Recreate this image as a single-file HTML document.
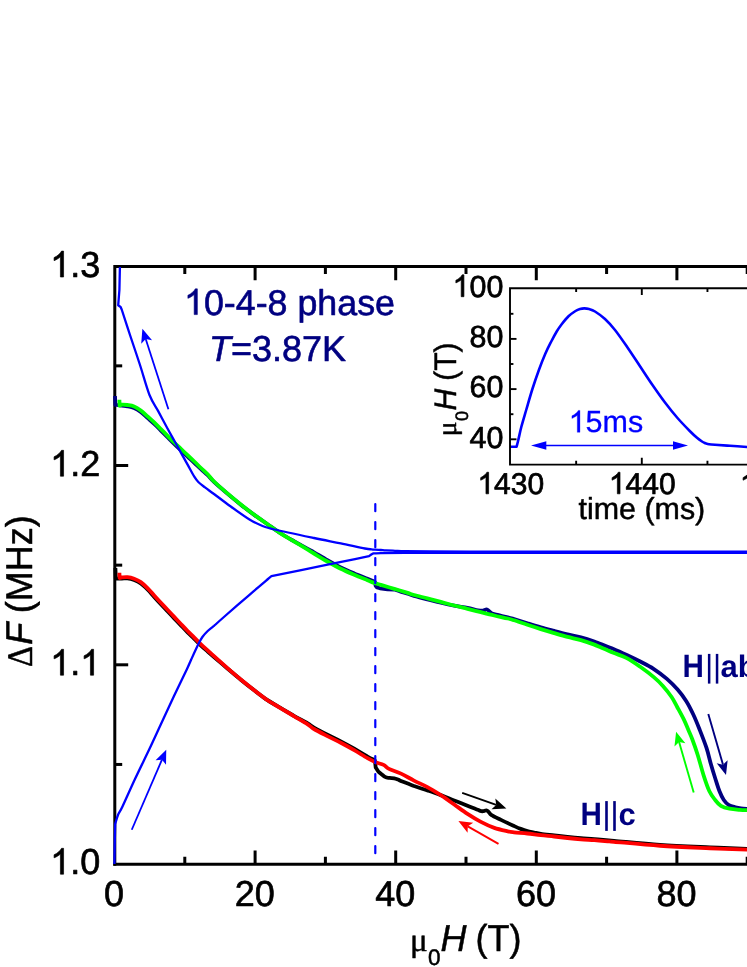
<!DOCTYPE html>
<html><head><meta charset="utf-8"><title>chart</title>
<style>
html,body{margin:0;padding:0;background:#fff;}
body{width:747px;height:967px;overflow:hidden;font-family:"Liberation Sans",sans-serif;}
svg{display:block;will-change:transform;}
svg text{text-rendering:geometricPrecision;}
</style></head><body>
<svg width="747" height="967" viewBox="0 0 747 967">
<rect width="747" height="967" fill="#fff"/>
<g stroke="#000" stroke-width="3.0" fill="none" stroke-linecap="butt">
<path d="M114.80,865.70 L114.80,266.60 L747,266.60"/>
<path d="M113.30,864.20 L747,864.20"/>
<path d="M184.80,266.60 v7.40 M184.80,864.20 v-7.40"/>
<path d="M255.10,266.60 v13.60 M255.10,864.20 v-13.60"/>
<path d="M325.40,266.60 v7.40 M325.40,864.20 v-7.40"/>
<path d="M395.70,266.60 v13.60 M395.70,864.20 v-13.60"/>
<path d="M466.00,266.60 v7.40 M466.00,864.20 v-7.40"/>
<path d="M536.30,266.60 v13.60 M536.30,864.20 v-13.60"/>
<path d="M606.60,266.60 v7.40 M606.60,864.20 v-7.40"/>
<path d="M676.90,266.60 v13.60 M676.90,864.20 v-13.60"/>
<path d="M747.20,266.60 v7.40 M747.20,864.20 v-7.40"/>
<path d="M114.80,764.45 h7.40"/>
<path d="M114.80,664.80 h13.40"/>
<path d="M114.80,565.15 h7.40"/>
<path d="M114.80,465.50 h13.40"/>
<path d="M114.80,365.85 h7.40"/>
</g>
<g fill="none" stroke-linejoin="round" stroke-linecap="butt">
<path d="M115.00,396.00 L115.40,404.80 L115.40,404.80 C116.50,404.95 120.00,405.45 122.00,405.70 C124.00,405.95 125.38,405.92 127.40,406.30 C129.42,406.67 131.87,407.02 134.10,407.96 C136.33,408.91 138.57,410.30 140.80,411.96 C143.03,413.62 145.27,415.93 147.50,417.92 C149.73,419.90 151.97,421.78 154.20,423.89 C156.43,425.99 158.68,428.34 160.90,430.56 C163.12,432.79 165.28,435.02 167.50,437.24 C169.72,439.47 171.97,441.76 174.20,443.92 C176.43,446.08 178.67,448.09 180.90,450.19 C183.13,452.30 185.37,454.44 187.60,456.54 C189.83,458.64 192.07,460.67 194.30,462.79 C196.53,464.90 198.77,467.15 201.00,469.23 C203.23,471.31 205.53,473.15 207.70,475.26 C209.87,477.37 210.72,478.83 214.00,481.89 C217.28,484.95 222.93,489.83 227.40,493.63 C231.87,497.42 236.33,501.11 240.80,504.65 C245.27,508.19 249.75,511.61 254.20,514.87 C258.65,518.13 263.05,521.08 267.50,524.19 C271.95,527.30 276.43,530.64 280.90,533.51 C285.37,536.39 289.83,538.86 294.30,541.43 C298.77,544.01 304.42,547.14 307.70,548.95 C310.98,550.76 310.72,550.42 314.00,552.30 C317.28,554.18 322.93,557.71 327.40,560.24 C331.87,562.77 336.33,565.29 340.80,567.48 C345.27,569.68 349.75,571.54 354.20,573.43 C358.65,575.31 364.17,577.45 367.50,578.80 C370.83,580.15 373.08,581.05 374.20,581.50 L375.00,582.00 L375.60,585.80 L377.00,587.40 L380.00,588.30 L387.60,589.30 L394.30,589.50 L394.30,589.50 C395.25,589.81 397.77,590.65 400.00,591.36 C402.23,592.07 405.37,592.98 407.70,593.74 C410.03,594.49 410.72,594.97 414.00,595.90 C417.28,596.83 422.93,598.16 427.40,599.30 C431.87,600.44 436.33,601.69 440.80,602.76 C445.27,603.84 449.75,604.88 454.20,605.74 C458.65,606.59 463.53,607.13 467.50,607.89 C471.47,608.65 475.42,609.84 478.00,610.31 C480.58,610.78 481.50,610.85 483.00,610.72 C484.50,610.58 485.67,609.14 487.00,609.50 C488.33,609.86 489.67,612.06 491.00,612.89 C492.33,613.71 492.22,613.73 495.00,614.46 C497.78,615.18 504.53,616.48 507.70,617.23 C510.87,617.99 510.72,617.99 514.00,619.00 C517.28,620.01 522.93,621.90 527.40,623.29 C531.87,624.69 536.33,626.10 540.80,627.37 C545.27,628.65 549.75,629.77 554.20,630.93 C558.65,632.08 563.05,633.22 567.50,634.29 C571.95,635.36 576.43,636.14 580.90,637.34 C585.37,638.54 591.12,640.41 594.30,641.49 C597.48,642.57 596.82,642.55 600.00,643.80 C603.18,645.05 608.93,647.13 613.40,649.00 C617.87,650.87 622.33,652.92 626.80,655.00 C631.27,657.08 635.75,659.20 640.20,661.50 C644.65,663.80 649.05,665.90 653.50,668.80 C657.95,671.70 662.88,675.43 666.90,678.90 C670.92,682.37 674.37,685.88 677.60,689.60 C680.83,693.32 683.68,697.05 686.30,701.20 C688.92,705.35 691.08,709.78 693.30,714.50 C695.52,719.22 697.40,723.93 699.60,729.50 C701.80,735.07 704.63,742.18 706.50,747.90 C708.37,753.62 709.35,758.73 710.80,763.80 C712.25,768.87 713.75,773.72 715.20,778.30 C716.65,782.88 718.07,787.68 719.50,791.30 C720.93,794.92 722.23,797.70 723.80,800.00 C725.37,802.30 726.97,803.88 728.90,805.10 C730.83,806.32 733.38,806.75 735.40,807.30 C737.42,807.85 738.90,808.12 741.00,808.40 C743.10,808.68 746.83,808.90 748.00,809.00" stroke="#000080" stroke-width="3.8"/>
<path d="M119.40,399.70 L119.60,405.70 L119.60,405.70 C120.00,405.52 120.70,404.72 122.00,404.60 C123.30,404.48 125.38,404.70 127.40,405.00 C129.42,405.30 131.87,405.50 134.10,406.40 C136.33,407.30 138.57,408.73 140.80,410.40 C143.03,412.07 145.27,414.40 147.50,416.40 C149.73,418.40 151.97,420.28 154.20,422.40 C156.43,424.52 158.68,426.87 160.90,429.10 C163.12,431.33 165.28,433.57 167.50,435.80 C169.72,438.03 171.97,440.33 174.20,442.50 C176.43,444.67 178.67,446.68 180.90,448.80 C183.13,450.92 185.37,453.08 187.60,455.20 C189.83,457.32 192.07,459.37 194.30,461.50 C196.53,463.63 198.77,465.87 201.00,468.00 C203.23,470.13 205.53,472.05 207.70,474.30 C209.87,476.55 210.72,478.32 214.00,481.50 C217.28,484.68 222.93,489.57 227.40,493.40 C231.87,497.23 236.33,500.93 240.80,504.50 C245.27,508.07 249.75,511.52 254.20,514.80 C258.65,518.08 263.05,521.07 267.50,524.20 C271.95,527.33 276.43,530.70 280.90,533.60 C285.37,536.50 289.83,538.92 294.30,541.60 C298.77,544.28 304.42,547.72 307.70,549.70 C310.98,551.68 310.72,551.53 314.00,553.50 C317.28,555.47 322.93,558.95 327.40,561.50 C331.87,564.05 336.33,566.58 340.80,568.80 C345.27,571.02 349.75,572.90 354.20,574.80 C358.65,576.70 364.17,578.85 367.50,580.20 C370.83,581.55 371.97,582.12 374.20,582.90 C376.43,583.68 377.55,583.90 380.90,584.90 C384.25,585.90 389.83,587.57 394.30,588.90 C398.77,590.23 404.42,591.88 407.70,592.90 C410.98,593.92 410.72,594.08 414.00,595.00 C417.28,595.92 422.93,597.25 427.40,598.40 C431.87,599.55 436.33,600.72 440.80,601.90 C445.27,603.08 449.75,604.35 454.20,605.50 C458.65,606.65 463.05,607.68 467.50,608.80 C471.95,609.92 476.43,611.08 480.90,612.20 C485.37,613.32 489.83,614.45 494.30,615.50 C498.77,616.55 504.42,617.70 507.70,618.50 C510.98,619.30 510.72,619.25 514.00,620.30 C517.28,621.35 522.93,623.33 527.40,624.80 C531.87,626.27 536.33,627.72 540.80,629.10 C545.27,630.48 549.75,631.80 554.20,633.10 C558.65,634.40 563.05,635.72 567.50,636.90 C571.95,638.08 576.43,638.92 580.90,640.20 C585.37,641.48 591.12,643.45 594.30,644.60 C597.48,645.75 596.82,645.73 600.00,647.10 C603.18,648.47 608.93,650.97 613.40,652.80 C617.87,654.63 622.33,655.77 626.80,658.10 C631.27,660.43 635.75,663.67 640.20,666.80 C644.65,669.93 649.72,673.72 653.50,676.90 C657.28,680.08 659.88,682.55 662.90,685.90 C665.92,689.25 669.22,693.48 671.60,697.00 C673.98,700.52 675.17,703.27 677.20,707.00 C679.23,710.73 681.93,715.57 683.80,719.40 C685.67,723.23 687.00,726.73 688.40,730.00 C689.80,733.27 690.63,734.80 692.20,739.00 C693.77,743.20 695.90,749.13 697.80,755.20 C699.70,761.27 701.67,769.38 703.60,775.40 C705.53,781.42 707.47,787.20 709.40,791.30 C711.33,795.40 713.28,797.58 715.20,800.00 C717.12,802.42 718.50,804.35 720.90,805.80 C723.30,807.25 726.45,808.02 729.60,808.70 C732.75,809.38 736.73,809.65 739.80,809.90 C742.87,810.15 746.63,810.15 748.00,810.20" stroke="#00ff00" stroke-width="3.8"/>
<path d="M115.40,568.00 L115.80,578.60 L115.80,578.60 C116.83,578.59 120.07,578.55 122.00,578.51 C123.93,578.48 125.38,578.15 127.40,578.40 C129.42,578.66 131.87,579.20 134.10,580.04 C136.33,580.89 138.57,581.90 140.80,583.48 C143.03,585.06 145.27,587.28 147.50,589.52 C149.73,591.77 151.97,594.50 154.20,596.96 C156.43,599.43 158.68,601.91 160.90,604.30 C163.12,606.68 165.28,608.93 167.50,611.27 C169.72,613.61 171.97,615.98 174.20,618.34 C176.43,620.69 178.67,623.07 180.90,625.41 C183.13,627.75 185.37,630.12 187.60,632.38 C189.83,634.63 192.07,636.74 194.30,638.95 C196.53,641.15 198.77,643.52 201.00,645.62 C203.23,647.72 205.53,649.65 207.70,651.54 C209.87,653.43 210.72,654.14 214.00,656.96 C217.28,659.78 222.93,664.64 227.40,668.44 C231.87,672.23 236.33,676.07 240.80,679.72 C245.27,683.36 249.75,686.89 254.20,690.30 C258.65,693.71 263.05,697.21 267.50,700.18 C271.95,703.16 276.43,705.52 280.90,708.17 C285.37,710.81 289.83,713.50 294.30,716.05 C298.77,718.60 304.42,721.51 307.70,723.45 C310.98,725.39 310.72,725.82 314.00,727.70 C317.28,729.58 322.93,732.46 327.40,734.73 C331.87,737.01 336.33,739.04 340.80,741.37 C345.27,743.69 349.75,746.15 354.20,748.70 C358.65,751.24 364.10,754.73 367.50,756.63 C370.90,758.53 373.42,759.53 374.60,760.11 L375.00,761.00 L375.70,767.50 L378.30,771.60 L378.30,771.60 C379.42,772.48 383.13,775.85 385.00,776.90 C386.87,777.95 387.95,777.67 389.50,777.90 C391.05,778.13 392.88,778.02 394.30,778.30 C395.72,778.58 396.65,779.05 398.00,779.60 C399.35,780.15 399.73,780.53 402.40,781.60 C405.07,782.67 412.07,785.27 414.00,786.00 L414.00,786.00 C416.23,786.73 422.93,788.88 427.40,790.40 C431.87,791.92 436.33,793.42 440.80,795.10 C445.27,796.78 449.75,798.72 454.20,800.50 C458.65,802.28 463.27,804.12 467.50,805.80 C471.73,807.48 477.02,809.70 479.60,810.60 C482.18,811.50 481.88,811.23 483.00,811.20 C484.12,811.17 485.38,810.30 486.30,810.40 C487.22,810.50 487.62,811.00 488.50,811.80 C489.38,812.60 489.52,813.85 491.60,815.20 C493.68,816.55 497.27,818.10 501.00,819.90 C504.73,821.70 510.72,824.50 514.00,826.00 C517.28,827.50 518.47,828.05 520.70,828.90 C522.93,829.75 525.18,830.50 527.40,831.10 C529.62,831.70 531.77,832.03 534.00,832.50 C536.23,832.97 537.43,833.42 540.80,833.90 C544.17,834.38 549.75,834.90 554.20,835.40 C558.65,835.90 563.05,836.43 567.50,836.90 C571.95,837.37 576.43,837.82 580.90,838.20 C585.37,838.58 588.78,838.75 594.30,839.20 C599.82,839.65 603.05,839.95 614.00,840.90 C624.95,841.85 644.00,843.82 660.00,844.90 C676.00,845.98 695.33,846.73 710.00,847.40 C724.67,848.07 741.67,848.65 748.00,848.90" stroke="#000000" stroke-width="3.8"/>
<path d="M119.40,572.70 L119.60,578.00 L119.60,578.00 C120.00,577.90 120.70,577.55 122.00,577.40 C123.30,577.25 125.38,576.88 127.40,577.10 C129.42,577.32 131.87,577.87 134.10,578.70 C136.33,579.53 138.57,580.53 140.80,582.10 C143.03,583.67 145.27,585.87 147.50,588.10 C149.73,590.33 151.97,593.05 154.20,595.50 C156.43,597.95 158.68,600.42 160.90,602.80 C163.12,605.18 165.28,607.45 167.50,609.80 C169.72,612.15 171.97,614.53 174.20,616.90 C176.43,619.27 178.67,621.65 180.90,624.00 C183.13,626.35 185.37,628.73 187.60,631.00 C189.83,633.27 192.07,635.38 194.30,637.60 C196.53,639.82 198.77,642.17 201.00,644.30 C203.23,646.43 205.53,648.42 207.70,650.40 C209.87,652.38 210.72,653.25 214.00,656.20 C217.28,659.15 222.93,664.22 227.40,668.10 C231.87,671.98 236.33,675.82 240.80,679.50 C245.27,683.18 249.75,686.75 254.20,690.20 C258.65,693.65 264.17,697.85 267.50,700.20 C270.83,702.55 271.97,702.95 274.20,704.30 C276.43,705.65 277.55,706.30 280.90,708.30 C284.25,710.30 289.83,713.63 294.30,716.30 C298.77,718.97 304.42,722.18 307.70,724.30 C310.98,726.42 310.72,727.03 314.00,729.00 C317.28,730.97 322.93,733.80 327.40,736.10 C331.87,738.40 336.33,740.45 340.80,742.80 C345.27,745.15 349.75,747.63 354.20,750.20 C358.65,752.77 363.93,756.20 367.50,758.20 C371.07,760.20 372.92,761.08 375.60,762.20 C378.28,763.32 381.37,763.78 383.60,764.90 C385.83,766.02 386.10,767.45 389.00,768.90 C391.90,770.35 396.83,771.65 401.00,773.60 C405.17,775.55 409.60,778.35 414.00,780.60 C418.40,782.85 422.93,784.68 427.40,787.10 C431.87,789.52 436.33,792.20 440.80,795.10 C445.27,798.00 449.75,801.37 454.20,804.50 C458.65,807.63 463.05,811.00 467.50,813.90 C471.95,816.80 476.43,819.57 480.90,821.90 C485.37,824.23 489.83,826.33 494.30,827.90 C498.77,829.47 504.42,830.57 507.70,831.30 C510.98,832.03 510.72,831.93 514.00,832.30 C517.28,832.67 522.93,833.02 527.40,833.50 C531.87,833.98 536.33,834.70 540.80,835.20 C545.27,835.70 549.75,836.03 554.20,836.50 C558.65,836.97 563.05,837.53 567.50,838.00 C571.95,838.47 576.43,838.93 580.90,839.30 C585.37,839.67 589.83,839.87 594.30,840.20 C598.77,840.53 604.42,841.03 607.70,841.30 C610.98,841.57 605.28,841.06 614.00,841.80 C622.72,842.54 644.00,844.67 660.00,845.75 C676.00,846.83 695.33,847.58 710.00,848.25 C724.67,848.92 741.67,849.50 748.00,849.75" stroke="#ff0000" stroke-width="3.8"/>
<path d="M747.00,551.70 C709.17,551.70 566.17,551.72 520.00,551.70 C473.83,551.68 485.00,551.65 470.00,551.60 C455.00,551.55 440.83,551.47 430.00,551.40 C419.17,551.33 410.83,551.30 405.00,551.20 C399.17,551.10 398.17,550.93 395.00,550.80 C391.83,550.67 388.35,550.53 386.00,550.40 C383.65,550.27 382.73,550.13 380.90,550.00 C379.07,549.87 376.55,549.72 375.00,549.60 C373.45,549.48 373.28,549.48 371.60,549.30 C369.92,549.12 370.03,549.48 364.90,548.50 C359.77,547.52 349.28,545.15 340.80,543.40 C332.32,541.65 325.05,540.32 314.00,538.00 C302.95,535.68 283.17,531.54 274.50,529.50 C265.83,527.46 266.17,527.42 262.00,525.75 C257.83,524.08 254.83,522.79 249.50,519.50 C244.17,516.21 235.92,510.25 230.00,506.00 C224.08,501.75 218.17,497.10 214.00,494.00 C209.83,490.90 207.62,489.40 205.00,487.40 C202.38,485.40 200.08,483.78 198.30,482.00 C196.52,480.22 196.08,479.60 194.30,476.70 C192.52,473.80 189.83,468.62 187.60,464.60 C185.37,460.58 183.13,456.62 180.90,452.60 C178.67,448.58 176.43,444.52 174.20,440.50 C171.97,436.48 170.17,433.40 167.50,428.50 C164.83,423.60 161.20,416.68 158.20,411.10 C155.20,405.52 152.53,402.68 149.50,395.00 C146.47,387.32 143.25,375.00 140.00,365.00 C136.75,355.00 133.05,344.25 130.00,335.00 C126.95,325.75 123.08,313.75 121.70,309.50 L120.60,307.00 L118.20,305.30 L119.40,290.00 L119.90,267.00" stroke="#0000ff" stroke-width="2.3"/>
<path d="M114.40,864.00 L114.80,840.00 L115.20,824.00 L115.20,824.00 C115.67,822.50 116.78,817.92 118.00,815.00 C119.22,812.08 119.67,812.50 122.50,806.50 C125.33,800.50 130.42,788.79 135.00,779.00 C139.58,769.21 145.67,756.92 150.00,747.75 C154.33,738.58 157.00,732.62 161.00,724.00 C165.00,715.38 169.67,705.17 174.00,696.00 C178.33,686.83 184.17,675.00 187.00,669.00 C189.83,663.00 189.12,664.12 191.00,660.00 C192.88,655.88 196.40,648.13 198.30,644.30 C200.20,640.47 200.83,639.22 202.40,637.00 C203.97,634.78 205.77,632.85 207.70,631.00 C209.63,629.15 212.95,626.75 214.00,625.90 L214.00,625.90 C215.75,624.33 218.58,621.68 224.50,616.50 C230.42,611.32 243.25,600.18 249.50,594.80 C255.75,589.42 258.92,586.83 262.00,584.20 C265.08,581.57 266.43,580.33 268.00,579.00 C269.57,577.67 270.83,576.67 271.40,576.20 L271.40,576.20 L300.00,570.30 L330.00,564.20 L355.00,559.10 L369.00,556.20 L369.00,556.20 L371.30,554.50 L373.10,553.40 L376.00,553.30 L380.90,553.20 L405.00,552.90 L430.00,552.90 L470.00,552.90 L747.00,552.90" stroke="#0000ff" stroke-width="2.3"/>
<line x1="375.3" y1="504" x2="375.3" y2="856" stroke="#0000ff" stroke-width="2.2" stroke-linecap="round" stroke-dasharray="7.2,10.8"/>
</g>
<line x1="168.40" y1="409.30" x2="145.72" y2="339.08" stroke="#0000ff" stroke-width="1.80"/><polygon points="142.40,328.80 152.07,340.18 145.72,339.08 141.22,343.68" fill="#0000ff"/>
<line x1="131.75" y1="829.75" x2="161.97" y2="759.67" stroke="#0000ff" stroke-width="1.80"/><polygon points="166.25,749.75 166.02,764.68 161.97,759.67 155.55,760.16" fill="#0000ff"/>
<line x1="462.20" y1="792.80" x2="496.23" y2="804.96" stroke="#000000" stroke-width="1.90"/><polygon points="506.40,808.60 491.49,809.32 496.23,804.96 495.32,798.59" fill="#000000"/>
<line x1="498.50" y1="843.80" x2="467.79" y2="826.34" stroke="#ff0000" stroke-width="1.90"/><polygon points="458.40,821.00 473.21,822.87 467.79,826.34 467.58,832.78" fill="#ff0000"/>
<line x1="708.30" y1="713.90" x2="722.99" y2="764.63" stroke="#000080" stroke-width="1.90"/><polygon points="726.00,775.00 716.69,763.33 722.99,764.63 727.64,760.16" fill="#000080"/>
<line x1="693.70" y1="792.50" x2="679.10" y2="742.07" stroke="#00ff00" stroke-width="1.90"/><polygon points="676.10,731.70 685.41,743.37 679.10,742.07 674.46,746.54" fill="#00ff00"/>
<g font-family="'Liberation Sans', sans-serif" font-size="36" fill="#000" stroke="#000" stroke-width="0.65" stroke-linejoin="round">
<text x="114.10" y="905.9" text-anchor="middle">0</text>
<text x="254.70" y="905.9" text-anchor="middle">20</text>
<text x="395.30" y="905.9" text-anchor="middle">40</text>
<text x="535.90" y="905.9" text-anchor="middle">60</text>
<text x="676.50" y="905.9" text-anchor="middle">80</text>
<path transform="translate(50.16,277.00) scale(0.01758,-0.01758)" d="M763,0 H583 V1147 Q518,1085 412.5,1023 Q307,961 223,930 V1104 Q374,1175 487,1276 Q600,1377 647,1472 H763 Z" vector-effect="non-scaling-stroke"/><text x="70.18" y="277.00" font-size="36.00">.3</text>
<path transform="translate(50.16,476.20) scale(0.01758,-0.01758)" d="M763,0 H583 V1147 Q518,1085 412.5,1023 Q307,961 223,930 V1104 Q374,1175 487,1276 Q600,1377 647,1472 H763 Z" vector-effect="non-scaling-stroke"/><text x="70.18" y="476.20" font-size="36.00">.2</text>
<path transform="translate(50.16,675.20) scale(0.01758,-0.01758)" d="M763,0 H583 V1147 Q518,1085 412.5,1023 Q307,961 223,930 V1104 Q374,1175 487,1276 Q600,1377 647,1472 H763 Z" vector-effect="non-scaling-stroke"/><text x="70.18" y="675.20" font-size="36.00">.</text><path transform="translate(80.18,675.20) scale(0.01758,-0.01758)" d="M763,0 H583 V1147 Q518,1085 412.5,1023 Q307,961 223,930 V1104 Q374,1175 487,1276 Q600,1377 647,1472 H763 Z" vector-effect="non-scaling-stroke"/>
<path transform="translate(50.16,874.20) scale(0.01758,-0.01758)" d="M763,0 H583 V1147 Q518,1085 412.5,1023 Q307,961 223,930 V1104 Q374,1175 487,1276 Q600,1377 647,1472 H763 Z" vector-effect="non-scaling-stroke"/><text x="70.18" y="874.20" font-size="36.00">.0</text>
</g>
<g font-family="'Liberation Sans', sans-serif" font-size="36" fill="#000" stroke="#000" stroke-width="0.5" stroke-linejoin="round">
<text x="409.9" y="951" font-family="'Liberation Serif', serif" font-size="33">μ</text>
<text x="428.1" y="964.5" font-size="22.5">0</text>
<g transform="translate(0,951) scale(1,1.04)"><text x="440.6" y="0" font-style="italic">H</text><text x="475.6" y="0">(T)</text></g>
<g transform="translate(32.0,667) rotate(-90)">
<text transform="scale(0.91,1)" x="0" y="0" font-family="'Liberation Serif', serif">Δ</text>
<g transform="scale(1,1.035)"><text x="22.2" y="0" font-style="italic">F</text><text x="53.7" y="0">(MHz)</text></g>
</g>
</g>
<g font-family="'Liberation Sans', sans-serif" font-size="36" fill="#000080" stroke="#000080" stroke-width="0.6" stroke-linejoin="round">
<path transform="translate(184.00,314.60) scale(0.01748,-0.01748)" d="M763,0 H583 V1147 Q518,1085 412.5,1023 Q307,961 223,930 V1104 Q374,1175 487,1276 Q600,1377 647,1472 H763 Z" vector-effect="non-scaling-stroke"/><text x="203.91" y="314.60" font-size="35.80">0-4-8 phase</text>
<text x="209" y="361.2"><tspan font-style="italic">T</tspan>=3.87K</text>
</g>
<g font-family="'Liberation Sans', sans-serif" font-size="31" font-weight="bold" fill="#000080">
<text transform="translate(682.5,677.1) scale(0.955,1.045)">H</text>
<rect x="707.9" y="653.9" width="2.5" height="29.7"/><rect x="715.8" y="653.9" width="2.5" height="29.7"/>
<text x="720.6" y="677.1">ab</text>
<text transform="translate(580.5,824.5) scale(0.955,1.045)">H</text>
<rect x="605.2" y="801.1" width="2.6" height="29.8"/><rect x="613.2" y="801.1" width="2.6" height="29.8"/>
<text x="618.6" y="824.5">c</text>
</g>
<rect x="510.00" y="288.30" width="300" height="176.30" fill="#fff" stroke="none"/>
<g fill="none" stroke="#0000ff" stroke-width="2.6" stroke-linejoin="round">
<path d="M510.00,446.75 L516.60,446.75 L516.60,446.75 C516.88,445.62 517.52,443.29 518.30,440.00 C519.08,436.71 519.98,432.00 521.30,427.00 C522.62,422.00 524.35,416.33 526.20,410.00 C528.05,403.67 530.28,395.67 532.40,389.00 C534.52,382.33 536.77,375.83 538.90,370.00 C541.03,364.17 543.18,358.67 545.20,354.00 C547.22,349.33 549.08,345.75 551.00,342.00 C552.92,338.25 554.95,334.42 556.70,331.50 C558.45,328.58 559.53,327.03 561.50,324.50 C563.47,321.97 566.17,318.55 568.50,316.30 C570.83,314.05 573.58,312.22 575.50,311.00 C577.42,309.78 578.54,309.43 580.00,309.00 C581.46,308.57 582.75,308.40 584.25,308.40 C585.75,308.40 587.21,308.48 589.00,309.00 C590.79,309.52 592.33,309.83 595.00,311.50 C597.67,313.17 601.67,315.92 605.00,319.00 C608.33,322.08 611.25,325.25 615.00,330.00 C618.75,334.75 623.33,341.46 627.50,347.50 C631.67,353.54 635.83,360.00 640.00,366.25 C644.17,372.50 648.33,378.96 652.50,385.00 C656.67,391.04 660.83,397.00 665.00,402.50 C669.17,408.00 673.33,413.21 677.50,418.00 C681.67,422.79 686.75,427.95 690.00,431.25 C693.25,434.55 695.00,436.09 697.00,437.80 C699.00,439.51 700.58,440.58 702.00,441.50 C703.42,442.42 704.92,443.00 705.50,443.30 L705.50,443.30 C706.08,443.45 707.42,443.95 709.00,444.20 C710.58,444.45 711.50,444.53 715.00,444.80 C718.50,445.07 724.50,445.43 730.00,445.80 C735.50,446.17 745.00,446.80 748.00,447.00"/>
</g>
<line x1="540" y1="445.5" x2="680" y2="445.5" stroke="#0000ff" stroke-width="1.6"/>
<polygon points="531,445.5 546.3,441.3 546.3,449.7" fill="#0000ff"/>
<polygon points="688,445.5 673,441.3 673,449.7" fill="#0000ff"/>
<g font-family="'Liberation Sans', sans-serif" fill="#0000ff" stroke="#0000ff" stroke-width="0.3"><path transform="translate(568.60,432.30) scale(0.01489,-0.01489)" d="M763,0 H583 V1147 Q518,1085 412.5,1023 Q307,961 223,930 V1104 Q374,1175 487,1276 Q600,1377 647,1472 H763 Z" vector-effect="non-scaling-stroke"/><text x="585.56" y="432.30" font-size="30.50">5ms</text></g>
<g stroke="#000" stroke-width="1.9" fill="none">
<path d="M747,288.30 L510.00,288.30 L510.00,464.60 L747,464.60"/>
<path d="M576.15,288.30 v3.80 M576.15,464.60 v-3.80"/>
<path d="M641.80,288.30 v6.80 M641.80,464.60 v-6.80"/>
<path d="M707.45,288.30 v3.80 M707.45,464.60 v-3.80"/>
<path d="M510.00,439.30 h6.50"/>
<path d="M510.00,414.20 h3.40"/>
<path d="M510.00,389.10 h6.50"/>
<path d="M510.00,364.00 h3.40"/>
<path d="M510.00,338.90 h6.50"/>
<path d="M510.00,313.80 h3.40"/>
</g>
<g font-family="'Liberation Sans', sans-serif" font-size="30.4" fill="#000" stroke="#000" stroke-width="0.7" stroke-linejoin="round">
<path transform="translate(452.58,296.70) scale(0.01484,-0.01484)" d="M763,0 H583 V1147 Q518,1085 412.5,1023 Q307,961 223,930 V1104 Q374,1175 487,1276 Q600,1377 647,1472 H763 Z" vector-effect="non-scaling-stroke"/><text x="469.49" y="296.70" font-size="30.40">00</text>
<text x="469.49" y="347.10" font-size="30.40">80</text>
<text x="469.49" y="397.20" font-size="30.40">60</text>
<text x="469.49" y="447.70" font-size="30.40">40</text>
<path transform="translate(477.43,493.80) scale(0.01465,-0.01465)" d="M763,0 H583 V1147 Q518,1085 412.5,1023 Q307,961 223,930 V1104 Q374,1175 487,1276 Q600,1377 647,1472 H763 Z" vector-effect="non-scaling-stroke"/><text x="494.12" y="493.80" font-size="30.00">430</text>
<path transform="translate(608.83,493.80) scale(0.01465,-0.01465)" d="M763,0 H583 V1147 Q518,1085 412.5,1023 Q307,961 223,930 V1104 Q374,1175 487,1276 Q600,1377 647,1472 H763 Z" vector-effect="non-scaling-stroke"/><text x="625.52" y="493.80" font-size="30.00">440</text>
<path transform="translate(739.83,493.80) scale(0.01465,-0.01465)" d="M763,0 H583 V1147 Q518,1085 412.5,1023 Q307,961 223,930 V1104 Q374,1175 487,1276 Q600,1377 647,1472 H763 Z" vector-effect="non-scaling-stroke"/><text x="756.52" y="493.80" font-size="30.00">450</text>
</g>
<g font-family="'Liberation Sans', sans-serif" font-size="30" fill="#000" stroke="#000" stroke-width="0.5" stroke-linejoin="round">
<text x="578.6" y="519" font-size="30.4">time (ms)</text>
<g transform="translate(455.8,437.3) rotate(-90)"><text x="1" y="0" font-family="'Liberation Serif', serif" font-size="27.5">μ</text><text x="16.3" y="12.5" font-size="18">0</text><g transform="scale(1,1.035)"><text x="26.8" y="0" font-style="italic">H</text><text x="56.5" y="0">(T)</text></g></g>
</g>
</svg>
</body></html>
